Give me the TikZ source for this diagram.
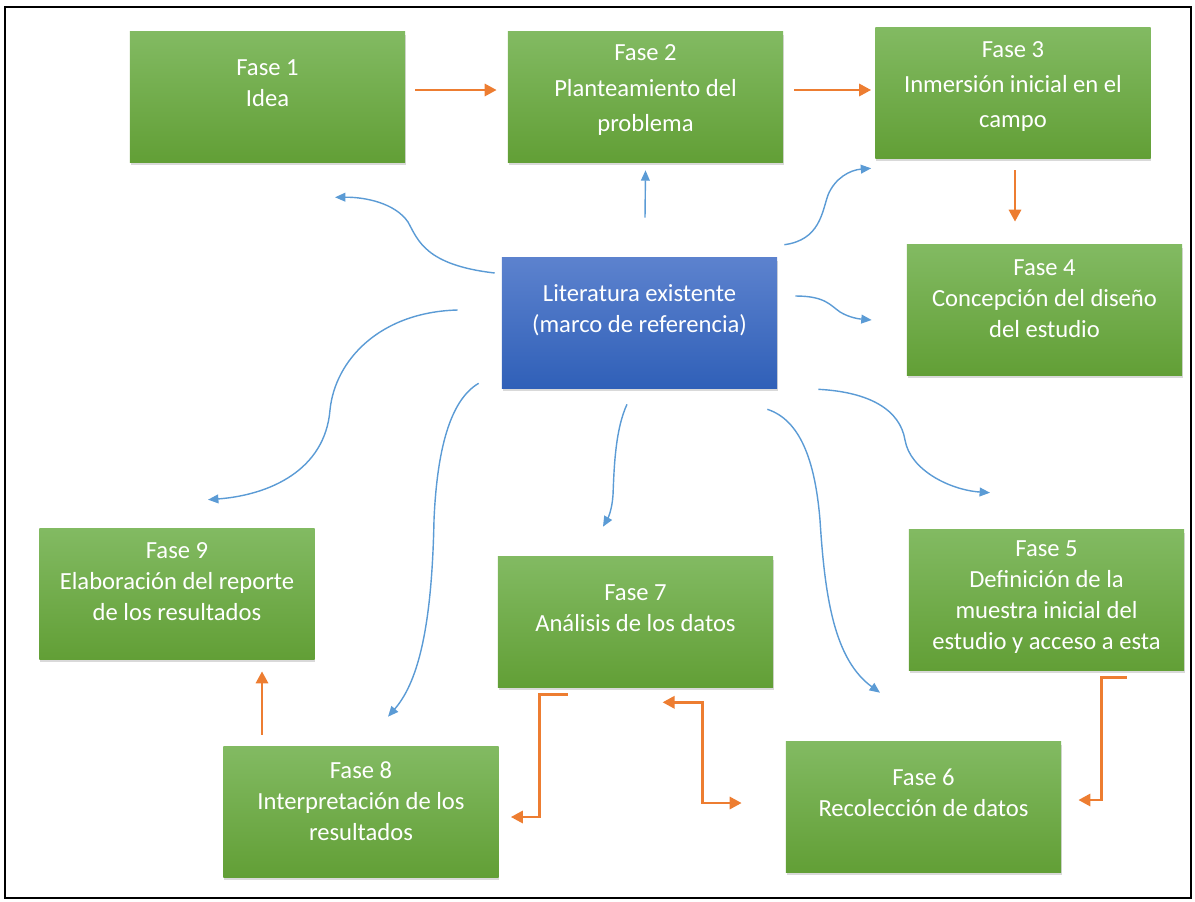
\documentclass[tikz,border=0pt]{standalone}
\usepackage{fontspec}
\setmainfont{Carlito}
\usetikzlibrary{arrows.meta,calc,shadows}
\definecolor{gtop}{RGB}{130,186,98}
\definecolor{gmid}{RGB}{112,173,71}
\definecolor{gbot}{RGB}{98,159,54}
\definecolor{btop}{RGB}{92,130,206}
\definecolor{bbot}{RGB}{48,96,184}
\definecolor{orng}{RGB}{237,125,49}
\definecolor{azul}{RGB}{91,155,213}
\tikzset{
  fase/.style={rectangle, minimum width=6.875cm, minimum height=3.25cm,
    top color=gtop, middle color=gmid, bottom color=gbot,
    drop shadow={shadow xshift=0.2mm, shadow yshift=-0.7mm, opacity=0.3}},
  litbox/.style={fase, top color=btop, middle color=btop!50!bbot, bottom color=bbot},
  ftext/.style={align=center, text=white, font=\fontsize{17.5}{22}\selectfont},
  widetext/.style={ftext, font=\fontsize{17.5}{25}\selectfont},
  orarrow/.style={draw=orng, line width=2.1pt, -{Triangle[length=0.3cm,width=0.3cm]}},
  orboth/.style={orarrow, {Triangle[length=0.3cm,width=0.3cm]}-{Triangle[length=0.3cm,width=0.3cm]}},
  bluarrow/.style={draw=azul, line width=1pt, -{Triangle[length=0.26cm,width=0.22cm]}}
}
\begin{document}
\begin{tikzpicture}[x=0.025cm,y=-0.025cm]
    \useasboundingbox (0,0) rectangle (1195,901);
    \draw[line width=1.2pt] (5,7) rectangle (1191,898);
    % boxes
    \node[fase] (f1) at (267.5,97) {};
    \node[fase] (f2) at (645.5,97) {};
    \node[fase] (f3) at (1013,93) {};
    \node[fase] (f4) at (1044.5,310) {};
    \node[litbox] (lit) at (639.5,323) {};
    \node[fase, minimum height=3.5cm] (f5) at (1046.5,600) {};
    \node[fase] (f6) at (923.5,807) {};
    \node[fase] (f7) at (635.5,622) {};
    \node[fase] (f8) at (361,812) {};
    \node[fase] (f9) at (177,594) {};
    % texts
    \node[ftext] (t1) at ($(f1)+(0,-14)$) {Fase 1\\Idea};
    \node[widetext] (t2) at ($(f2)+(0,-7)$) {Fase 2\\Planteamiento del\\problema};
    \node[widetext] (t3) at ($(f3)+(0,-6.5)$) {Fase 3\\Inmersión inicial en el\\campo};
    \node[ftext] (t4) at ($(f4)+(0,-11.5)$) {Fase 4\\Concepción del diseño\\del estudio};
    \node[ftext] (tl) at ($(lit)+(0,-13)$) {Literatura existente\\(marco de referencia)};
    \node[ftext] (t5) at ($(f5)+(0,-3)$) {Fase 5\\Definición de la\\muestra inicial del\\estudio y acceso a esta};
    \node[ftext] (t6) at ($(f6)+(0,-14)$) {Fase 6\\Recolección de datos};
    \node[ftext] (t7) at ($(f7)+(0,-13.5)$) {Fase 7\\Análisis de los datos};
    \node[ftext] (t8) at ($(f8)+(0,-11)$) {Fase 8\\Interpretación de los\\resultados};
    \node[ftext] (t9) at ($(f9)+(0,-12.5)$) {Fase 9\\Elaboración del reporte\\de los resultados};
    % orange flow
    \draw[orarrow] ($(f1.east)+(10,-7)$) -- ($(f2.west)+(-11,-7)$);
    \draw[orarrow] ($(f2.east)+(11,-7)$) -- ($(f3.west)+(-4,-3)$);
    \draw[orarrow] ($(f3.south)+(2,12)$) -- ($(f4.north)+(-29.5,-23)$);
    \draw[orarrow] ($(f5.south)+(80,7)$) -- ++(-25,0) |- ($(f6.east)+(17,-7)$);
    \draw[orboth] ($(f7.south)+(27,15)$) -- ++(40,0) |- ($(f6.west)+(-44,-4)$);
    \draw[orarrow] ($(f7.south)+(-68,7)$) -- ++(-28,0) |- ($(f8.east)+(12,5)$);
    \draw[orarrow] ($(f8.north)+(-99,-12)$) -- ($(f9.south)+(85,12)$);
    % blue links from the literature
    \draw[bluarrow] ($(lit.west)+(-7,-50)$) .. controls (425,265) and (418,240) .. (408,222)
      .. controls (395,203) and (365,197) .. ($(f1.south)+(67.5,35)$);
    \draw[bluarrow] ($(lit.north)+(5.5,-40)$) -- ($(f2.south)+(0,8)$);
    \draw[bluarrow] ($(lit.north east)+(7,-13)$) .. controls (820,240) and (822,212) .. (828,195)
      .. controls (835,178) and (850,170) .. ($(f3.south west)+(-4,10)$);
    \draw[bluarrow] ($(lit.east)+(18,-27)$) .. controls (825,296) and (830,305) .. (840,312)
      .. controls (850,318) and (860,319) .. ($(f4.west)+(-35,10)$);
    \draw[bluarrow] ($(lit.south east)+(41,1)$) .. controls (870,392) and (900,410) .. (905,440)
      .. controls (910,470) and (950,490) .. ($(f5.north)+(-56.5,-37)$);
    \draw[bluarrow] ($(lit.south east)+(-10,21)$) .. controls (800,420) and (815,460) .. (820,520)
      .. controls (825,600) and (835,660) .. ($(f6.north)+(-43.5,-49)$);
    \draw[bluarrow] ($(lit.south)+(-12.5,16)$) .. controls (615,430) and (614,470) .. (613,495)
      .. controls (612,510) and (608,518) .. ($(f7.north)+(-32.5,-30)$);
    \draw[bluarrow] ($(lit.south west)+(-23,-5)$) .. controls (450,400) and (437,450) .. (434,520)
      .. controls (432,620) and (420,680) .. ($(f8.north)+(27,-30)$);
    \draw[bluarrow] ($(lit.west)+(-44,-13)$) .. controls (380,312) and (335,360) .. (330,410)
      .. controls (325,470) and (270,495) .. ($(f9.north)+(31,-29)$);
\end{tikzpicture}
\end{document}
